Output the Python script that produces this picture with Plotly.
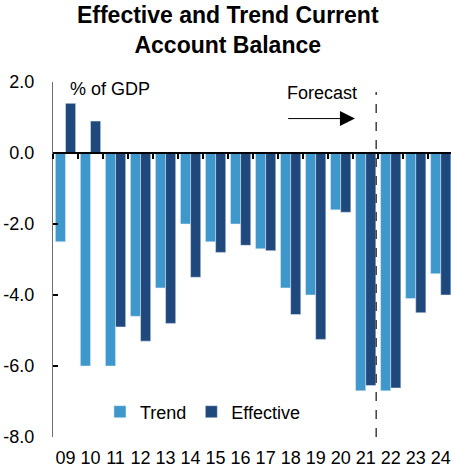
import plotly.graph_objects as go

years = ["09", "10", "11", "12", "13", "14", "15", "16", "17", "18", "19", "20", "21", "22", "23", "24"]
trend = [-2.5, -6.0, -6.0, -4.6, -3.8, -2.0, -2.5, -2.0, -2.7, -3.8, -4.0, -1.6, -6.7, -6.7, -4.1, -3.4]
effective = [1.4, 0.9, -4.9, -5.3, -4.8, -3.5, -2.8, -2.6, -2.75, -4.55, -5.25, -1.67, -6.55, -6.62, -4.5, -4.0]
y_ticks = [-8, -6, -4, -2, 0, 2]
y_ticktext = ["-8.0", "-6.0", "-4.0", "-2.0", "0.0", "2.0"]

TREND_C = "#3F98CB"
EFF_C = "#1F497D"
FONT = "Liberation Sans, Arial, sans-serif"

fig = go.Figure()
fig.add_trace(go.Bar(x=years, y=trend, name="Trend", marker_color=TREND_C))
fig.add_trace(go.Bar(x=years, y=effective, name="Effective", marker_color=EFF_C))
# helper trace so that the zero-line axis (x2) is drawn
fig.add_trace(go.Scatter(x=years, y=[None] * len(years), xaxis="x2", showlegend=False,
                         hoverinfo="skip", mode="markers"))

fig.update_layout(
    width=451, height=471,
    margin=dict(l=53, r=0, t=82, b=34),
    paper_bgcolor="white", plot_bgcolor="white",
    font=dict(family=FONT, size=18, color="black"),
    barmode="group", bargap=0.19, bargroupgap=0,
    title=dict(text="<b>Effective and Trend Current<br>Account Balance</b>",
               font=dict(family=FONT, size=23, color="black"),
               x=0.505, xref="container", xanchor="center",
               y=0.952, yref="container", yanchor="top"),
    xaxis=dict(type="category", categoryorder="array", categoryarray=years,
               range=[-0.5, 15.41], showline=False, ticks="", showgrid=False,
               zeroline=False, tickfont=dict(size=18), ticklabelstandoff=8),
    xaxis2=dict(overlaying="x", matches="x", anchor="free", position=0.8,
                showline=True, linecolor="black", linewidth=2,
                ticks="outside", tickson="boundaries", ticklen=5, tickwidth=2,
                tickcolor="black", showticklabels=False, showgrid=False, zeroline=False),
    yaxis=dict(range=[-8, 2], tickvals=y_ticks, ticktext=y_ticktext,
               showline=True, linecolor="#6f6f6f", linewidth=1,
               ticks="inside", ticklen=5, tickwidth=2, tickcolor="black",
               showgrid=False, zeroline=False, tickfont=dict(size=18),
               ticklabelstandoff=14),
    legend=dict(orientation="h", x=0.118, xanchor="left", y=0.0704, yanchor="middle",
                font=dict(size=18), bgcolor="rgba(0,0,0,0)", traceorder="normal"),
    showlegend=True,
)

fig.add_shape(type="line", xref="x", yref="y", x0=12.42, x1=12.42, y0=-8, y1=1.72,
              line=dict(color="#404040", width=1.5, dash="dash"))

fig.add_annotation(text="% of GDP", xref="x", yref="y", x=0.09, y=1.79,
                   xanchor="left", yanchor="middle", showarrow=False, font=dict(size=18))
fig.add_annotation(text="Forecast", xref="x", yref="y", x=10.25, y=1.68,
                   xanchor="center", yanchor="middle", showarrow=False, font=dict(size=18))
fig.add_annotation(text="", xref="x", yref="y", x=11.57, y=0.97,
                   axref="x", ayref="y", ax=8.84, ay=0.97, showarrow=True,
                   arrowhead=2, arrowsize=3, arrowwidth=1, arrowcolor="black")

fig.write_html("out.html")
